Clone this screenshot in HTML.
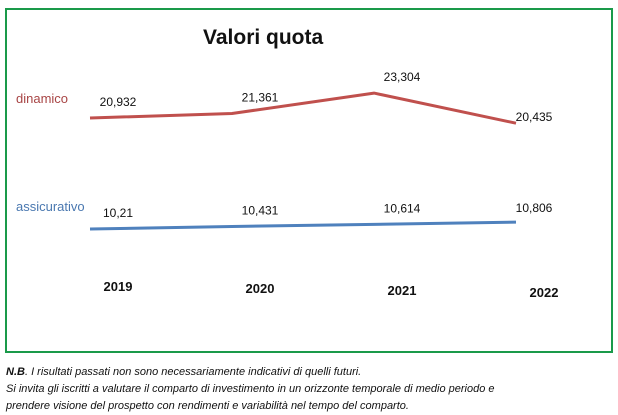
<!DOCTYPE html>
<html><head><meta charset="utf-8"><style>
body{margin:0;width:618px;height:415px;background:#fff;font-family:"Liberation Sans",sans-serif;position:relative;overflow:hidden}
.t{position:absolute;white-space:nowrap}
</style></head><body>
<div style="position:absolute;left:5px;top:8px;width:604px;height:341px;border:2px solid #1a9a4a"></div>
<svg id="c" width="618" height="415" style="position:absolute;left:0;top:0"></svg>
<div class="t" style="left:203px;top:26px;font-size:21px;font-weight:bold;color:#111">Valori quota</div>
<div class="t" style="left:16px;top:91px;font-size:13px;color:#a84545">dinamico</div>
<div class="t" style="left:16px;top:199px;font-size:13px;color:#4a78b0">assicurativo</div>
<div style="position:absolute;left:6px;top:364px;font-size:11px;font-style:italic;line-height:17px;color:#111">
<div><b>N.B</b>. I risultati passati non sono necessariamente indicativi di quelli futuri.</div>
<div>Si invita gli iscritti a valutare il comparto di investimento in un orizzonte temporale di medio periodo e</div>
<div>prendere visione del prospetto con rendimenti e variabilità nel tempo del comparto.</div>
</div>
<script>
const years=["2019","2020","2021","2022"];
const dinamico=[20.932,21.361,23.304,20.435];
const assicurativo=[10.21,10.431,10.614,10.806];
const dinLabels=["20,932","21,361","23,304","20,435"];
const assLabels=["10,21","10,431","10,614","10,806"];
const svg=document.getElementById('c');
const NS="http://www.w3.org/2000/svg";
function x(i){return 90+i*142;}
function yDin(v){return 118-(v-20.932)*10.5;}
function yAss(v){return 229-(v-10.21)*11.5;}
function mk(tag,a){const e=document.createElementNS(NS,tag);for(const k in a)e.setAttribute(k,a[k]);svg.appendChild(e);return e;}
function series(vals,yf,color,name,labels,lastOff){
  const p=mk('polyline',{points:vals.map((v,i)=>x(i)+','+yf(v)).join(' '),fill:'none',stroke:color,'stroke-width':3,'stroke-linejoin':'round'});
  
  
  vals.forEach((v,i)=>{
    const off=(i===vals.length-1)?lastOff:-12;
    const t=mk('text',{x:x(i)+(i===vals.length-1?18:28),y:yf(v)+off,'font-size':12,'text-anchor':'middle',fill:'#111','font-family':'Liberation Sans, sans-serif'});
    t.textContent=labels[i];
    
    
  });
}
series(dinamico,yDin,'#c0504d','dinamico',dinLabels,-2);
series(assicurativo,yAss,'#4f81bd','assicurativo',assLabels,-10);
years.forEach((yr,i)=>{
  const t=mk('text',{x:x(i)+28,y:291+i*2,'font-size':13,'font-weight':'bold','text-anchor':'middle',fill:'#111','font-family':'Liberation Sans, sans-serif'});
  t.textContent=yr;
  
  
});
</script>
</body></html>
